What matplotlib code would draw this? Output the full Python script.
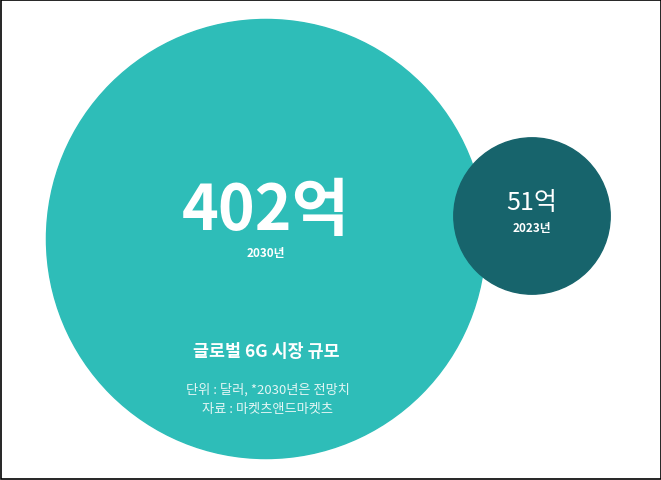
import numpy as np
import matplotlib
matplotlib.use("Agg")
import matplotlib.pyplot as plt
from matplotlib.patches import Circle, Rectangle

plt.rcParams['font.family'] = ['Noto Sans CJK KR', 'DejaVu Sans']

# market size (unit: 억 달러)
values = [402, 51]
value_labels = ['402억', '51억']
years = ['2030년', '2023년']
title = '글로벌 6G 시장 규모'
notes = ['단위 : 달러, *2030년은 전망치', '자료 : 마켓츠앤드마켓츠']

colors = ['#2ebdb8', '#17646c']
centers = [(266, 240), (532, 217)]
scale = 10.95  # radius = scale * sqrt(value)

fig = plt.figure(figsize=(6.61, 4.81), dpi=100)
ax = fig.add_axes([0, 0, 1, 1])
ax.set_xlim(0, 661)
ax.set_ylim(481, 0)
ax.set_aspect('equal')
ax.axis('off')

for v, c, (cx, cy) in zip(values, colors, centers):
    ax.add_patch(Circle((cx, cy), scale * np.sqrt(v), color=c, zorder=2))

# big circle labels
ax.text(266, 212, value_labels[0], color='white', fontsize=45, fontweight='bold',
        ha='center', va='center', zorder=3)
ax.text(266, 254, years[0], color='white', fontsize=8.5, fontweight='bold',
        ha='center', va='center', zorder=3)

# small circle labels
ax.text(532, 203, value_labels[1], color='white', fontsize=18, fontweight='medium',
        ha='center', va='center', zorder=3)
ax.text(532, 229, years[1], color='white', fontsize=8.5, fontweight='bold',
        ha='center', va='center', zorder=3)

ax.text(266, 352, title, color='white', fontsize=12.5, fontweight='bold',
        ha='center', va='center', zorder=3)
ax.text(268, 390, notes[0], color='#e4f6f5', fontsize=9.5,
        ha='center', va='center', zorder=3)
ax.text(267, 410, notes[1], color='#e4f6f5', fontsize=9.5,
        ha='center', va='center', zorder=3)

# frame
ax.add_patch(Rectangle((0.5, 0.5), 660, 479, fill=False, edgecolor='black', lw=1.2, zorder=5))

fig.savefig('out.png', dpi=100)
